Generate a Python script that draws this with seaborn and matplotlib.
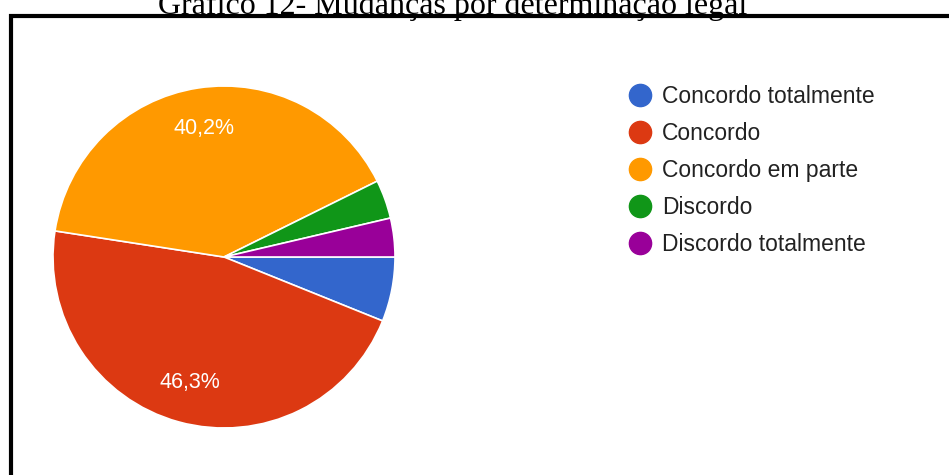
import matplotlib
matplotlib.use("Agg")
import matplotlib.pyplot as plt
import seaborn as sns
from matplotlib.lines import Line2D
from matplotlib.patches import Rectangle

# Survey answers (number of respondents per option)
categories = ["Concordo totalmente", "Concordo", "Concordo em parte",
              "Discordo", "Discordo totalmente"]
counts = [5, 38, 33, 3, 3]
colors = ["#3366CC", "#DC3912", "#FF9900", "#109618", "#990099"]
title = "Gráfico 12- Mudanças por determinação legal"

sns.set_theme(style="white")
plt.rcParams["font.family"] = ["Liberation Sans", "DejaVu Sans"]

W, H = 949, 475
fig = plt.figure(figsize=(W / 100, H / 100), dpi=100)
fig.patch.set_facecolor("white")

# pie axes: centre (224, 257) px, radius 171 px
cx, cy, r = 224, 257, 171
ax = fig.add_axes([(cx - r) / W, (H - cy - r) / H, 2 * r / W, 2 * r / H])
palette = sns.color_palette(colors)


def pct_label(p):
    return (f"{p:.1f}%".replace(".", ",")) if p >= 10 else ""


wedges, _, autotexts = ax.pie(
    counts, colors=palette, startangle=0, counterclock=False,
    autopct=pct_label, pctdistance=0.76,
    wedgeprops=dict(edgecolor="white", linewidth=1.2),
    textprops=dict(color="white", fontsize=15.5),
)
ax.set_xlim(-1, 1)
ax.set_ylim(-1, 1)
ax.set_aspect("equal")
ax.axis("off")

# legend on the right
handles = [Line2D([0], [0], marker="o", linestyle="", markersize=16,
                  markerfacecolor=c, markeredgecolor=c) for c in palette]
fig.legend(handles, categories, loc="upper left",
           bbox_to_anchor=(626 / W, 1 - 85 / H), frameon=False,
           fontsize=16.5, labelcolor="#222222", handletextpad=0.36,
           labelspacing=0.61, handlelength=1.2, borderpad=0, borderaxespad=0)

# frame around the chart (only top and left edges fall inside the image)
fig.patches.append(Rectangle((10.5 / W, -0.1), 1.2, (H - 16.5) / H + 0.1,
                             transform=fig.transFigure, fill=False,
                             edgecolor="black", linewidth=3.0, zorder=0))

fig.text(453 / W, 1 - 14 / H, title, ha="center", va="baseline",
         fontsize=23, family=["Liberation Serif", "DejaVu Serif"],
         color="black", zorder=5)

fig.savefig("out.png", dpi=100, facecolor="white")
